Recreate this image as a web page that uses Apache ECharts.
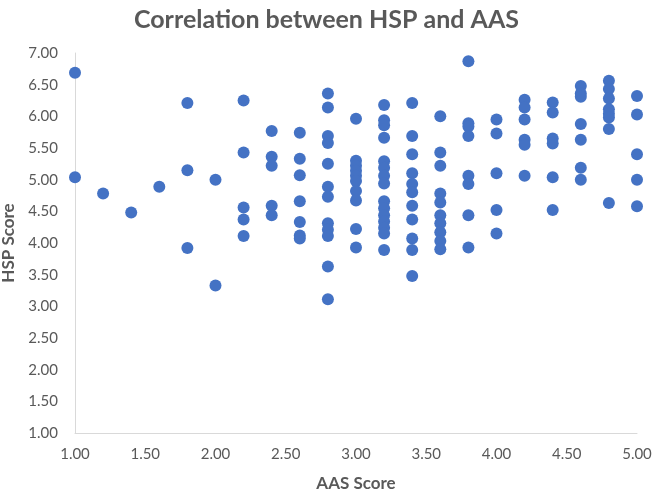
<!DOCTYPE html>
<html>
<head>
<meta charset="utf-8">
<script src="https://cdn.jsdelivr.net/npm/echarts@6/dist/echarts.min.js"></script>
<style>html,body{margin:0;padding:0;background:#fff}#c{width:653px;height:497px}</style>
</head>
<body>
<div id="c"></div>
<script>
const title = "Correlation between HSP and AAS";
const xName = "AAS Score";
const yName = "HSP Score";
// AAS score (x) groups and their HSP scores (y)
const aasLevels = [1.0, 1.2, 1.4, 1.6, 1.8, 2.0, 2.2, 2.4, 2.6, 2.8, 3.0, 3.2, 3.4, 3.6, 3.8, 4.0, 4.2, 4.4, 4.6, 4.8, 5.0];
const hspByLevel = [
  [6.69, 5.04],
  [4.78],
  [4.48],
  [4.89],
  [6.21, 5.15, 3.92],
  [5.00, 3.33],
  [6.25, 5.43, 4.56, 4.37, 4.11],
  [5.77, 5.36, 5.22, 4.59, 4.44],
  [5.74, 5.33, 5.07, 4.66, 4.33, 4.12, 4.07],
  [6.36, 6.14, 5.69, 5.58, 5.25, 4.89, 4.73, 4.31, 4.21, 4.11, 3.63, 3.11],
  [5.96, 5.30, 5.22, 5.14, 5.06, 4.98, 4.82, 4.67, 4.22, 3.93],
  [6.18, 5.94, 5.86, 5.66, 5.29, 5.19, 5.06, 4.94, 4.66, 4.55, 4.44, 4.34, 4.24, 4.15, 3.89],
  [6.21, 5.69, 5.40, 5.10, 4.93, 4.80, 4.59, 4.37, 4.07, 3.89, 3.48],
  [6.00, 5.43, 5.22, 4.78, 4.64, 4.44, 4.31, 4.17, 4.03, 3.90],
  [6.87, 5.89, 5.84, 5.69, 5.06, 4.93, 4.44, 3.93],
  [5.95, 5.73, 5.10, 4.52, 4.15],
  [6.26, 6.14, 5.95, 5.63, 5.55, 5.06],
  [6.22, 6.06, 5.65, 5.57, 5.04, 4.52],
  [6.48, 6.36, 6.31, 5.88, 5.63, 5.19, 5.00],
  [6.56, 6.43, 6.28, 6.11, 6.04, 5.98, 5.80, 4.63],
  [6.32, 6.03, 5.40, 5.00, 4.58]
];
const points = [];
aasLevels.forEach((x, i) => hspByLevel[i].forEach(y => points.push([x, y])));

const font = "Lato, 'Open Sans', sans-serif";
const chart = echarts.init(document.getElementById('c'));
chart.setOption({
  animation: false,
  title: {
    text: title, left: 'center', top: 2,
    textStyle: {fontFamily: font, fontSize: 25, fontWeight: 'bold', color: '#595959'}
  },
  grid: {left: 75, right: 16, top: 53, bottom: 64, containLabel: false, outerBoundsMode: 'none'},
  xAxis: {
    type: 'value', min: 1, max: 5, interval: 0.5,
    name: xName, nameLocation: 'middle', nameGap: 42,
    nameTextStyle: {fontFamily: font, fontSize: 17, fontWeight: 'bold', color: '#595959'},
    axisLine: {show: true, lineStyle: {color: '#d9d9d9', width: 1}},
    axisTick: {show: false}, splitLine: {show: false},
    axisLabel: {fontFamily: font, fontSize: 15, color: '#595959', margin: 14, formatter: v => v.toFixed(2)}
  },
  yAxis: {
    type: 'value', min: 1, max: 7, interval: 0.5,
    name: yName, nameLocation: 'middle', nameGap: 53,
    nameTextStyle: {fontFamily: font, fontSize: 17, fontWeight: 'bold', color: '#595959'},
    axisLine: {show: true, lineStyle: {color: '#d9d9d9', width: 1}},
    axisTick: {show: false}, splitLine: {show: false},
    axisLabel: {fontFamily: font, fontSize: 15, color: '#595959', margin: 17, formatter: v => v.toFixed(2)}
  },
  series: [{
    type: 'scatter', data: points, symbol: 'circle', symbolSize: 12,
    itemStyle: {color: '#4472C4', opacity: 1}
  }]
});
</script>
</body>
</html>
